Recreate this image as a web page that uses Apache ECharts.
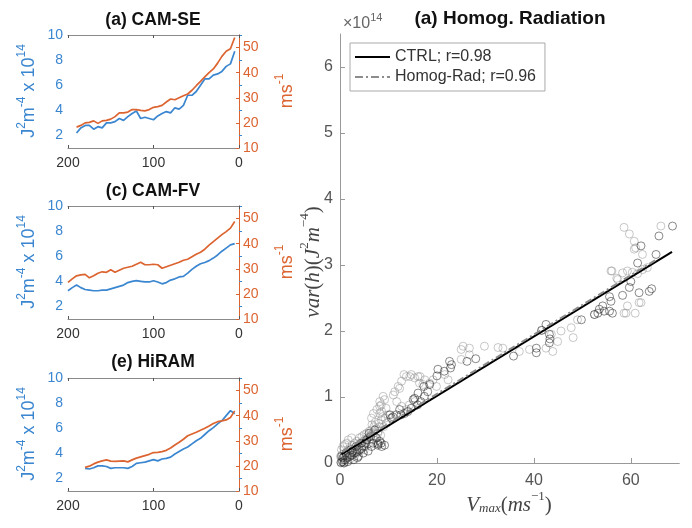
<!DOCTYPE html>
<html><head><meta charset="utf-8">
<script src="https://cdn.jsdelivr.net/npm/echarts/dist/echarts.min.js"></script>
<style>html,body{margin:0;padding:0;background:#fff}#c{width:692px;height:528px}</style>
</head><body><div id="c"></div>
<script>
// ---------- left panels data ----------
const xA = [190,185,180,175,170,165,160,155,150,145,140,135,130,125,120,115,110,105,100,95,90,85,80,75,70,65,60,55,50,45,40,35,30,25,20,15,10,5];
const varA = [2.2,2.6,2.8,2.8,2.5,2.7,2.6,3.0,3.0,3.1,3.35,3.2,3.5,3.75,3.95,3.35,3.45,3.35,3.25,3.55,3.75,3.9,3.8,4.2,4.1,4.4,5.2,5.2,5.5,6.0,6.5,6.5,6.8,6.9,7.1,7.5,7.7,8.7];
const vmaxA = [18.3,19.0,20.0,20.2,20.8,19.8,20.8,21.0,21.5,22.5,24.0,24.0,24.3,25.3,25.3,25.0,24.8,25.3,26.2,26.5,27.0,28.3,29.5,29.2,30.0,30.8,31.5,33.0,34.8,36.5,38.3,40.0,41.5,43.8,46.5,48.5,49.5,54.0];

const xC = [200,195,190,185,180,175,170,165,160,155,150,145,140,135,130,125,120,115,110,105,100,95,90,85,80,75,70,65,60,55,50,45,40,35,30,25,20,15,10,5];
const varC = [3.25,3.5,3.7,3.5,3.35,3.3,3.25,3.25,3.3,3.3,3.4,3.5,3.6,3.7,3.9,4.0,4.05,4.0,3.95,3.95,4.05,3.95,3.8,3.9,4.1,4.2,4.35,4.4,4.65,4.95,5.2,5.4,5.5,5.65,5.85,6.1,6.4,6.65,6.9,7.0];
const vmaxC = [24.6,26.0,27.2,27.6,27.8,26.4,27.2,28.2,28.8,28.6,29.6,28.6,29.4,30.2,30.6,31.0,31.8,32.6,31.6,31.6,31.8,31.6,30.2,30.8,31.4,32.0,32.6,33.4,33.8,34.8,35.8,36.6,37.8,39.4,40.8,42.2,43.6,44.8,46.2,48.8];

const xE = [180,175,170,165,160,155,150,145,140,135,130,125,120,115,110,105,100,95,90,85,80,75,70,65,60,55,50,45,40,35,30,25,20,15,10,5];
const varE = [2.8,2.75,2.85,3.0,3.0,2.95,2.8,2.85,2.85,2.85,2.8,2.95,3.2,3.25,3.3,3.4,3.5,3.4,3.55,3.6,3.7,3.95,4.15,4.35,4.5,4.75,5.0,5.2,5.5,5.8,6.05,6.35,6.6,7.0,7.4,7.15];
const vmaxE = [19.4,19.9,20.8,21.5,22.0,22.4,21.9,21.8,21.9,22.0,21.6,22.4,23.1,23.6,24.1,24.6,25.3,25.4,25.7,26.2,27.1,28.3,29.4,30.6,32.0,32.7,33.4,34.2,35.0,35.9,36.9,37.6,37.9,38.3,39.3,41.9];

const leftTitles = ['(a) CAM-SE','(c) CAM-FV','(e) HiRAM'];
const leftYTicks = [2,4,6,8,10];
const rightYTicks = [10,20,30,40,50];

// ---------- right panel data ----------
const ctrlPts = [
[68.6,3.59],[65.8,3.44],[62.1,3.29],[65.2,3.16],[61.4,3.03],[60.0,2.75],[59.7,2.66],[61.7,2.58],[63.8,2.60],[64.3,2.64],
[58.3,2.54],[55.6,2.52],[55.9,2.45],[54.2,2.38],[53.5,2.33],[53.2,2.27],[52.5,2.25],[54.5,2.30],[55.6,2.30],[56.2,2.27],
[49.8,2.17],[42.5,2.10],[43.2,1.95],[41.6,2.01],[43.3,1.88],[43.2,1.82],[40.5,1.74],[40.5,1.67],[35.8,1.62],[28.0,1.58],
[26.2,1.54],[22.6,1.54],[23.0,1.49],[22.8,1.44],[20.2,1.42],[20.0,1.32],[21.5,1.39],[18.5,1.19],[17.3,1.16],[18.1,1.08],
[16.1,1.06],[17.4,1.01],[15.4,0.98],[16.7,0.93],[15.1,0.96],[16.0,0.88],[14.7,0.83],[12.3,0.81],[13.3,0.75],[12.6,0.73],
[14.0,0.78],[10.3,0.73],[10.6,0.68],[10.9,0.70],[11.6,0.73],[8.2,0.33],[8.5,0.30],[7.8,0.27],[9.2,0.27],[8.6,0.25],[7.9,0.29],
[0.5,0.02],[1.0,0.05],[1.5,0.08],[2.0,0.10],[2.5,0.12],[3.0,0.15],[3.5,0.17],[4.0,0.20],[4.5,0.22],[5.0,0.25],
[1.2,0.15],[2.2,0.20],[3.3,0.25],[4.4,0.30],[5.5,0.35],[6.3,0.40],[0.3,0.10],[6.8,0.30],[5.8,0.18],[3.8,0.10],[2.8,0.05],
[6.0,0.45],[7.2,0.50],[0.2,0.01],[0.8,0.0],[0.6,0.08],[1.6,0.02],[2.6,0.18],[3.6,0.08],[4.8,0.15],[5.2,0.30],[6.5,0.25],[7.5,0.38]
];
const homogPts = [
[58.6,3.57],[59.7,3.47],[66.2,3.59],[60.7,3.36],[61.0,3.26],[62.4,3.16],[60.7,3.24],[56.1,2.91],[55.9,2.91],[58.3,2.88],
[59.3,2.91],[60.3,2.89],[61.4,2.87],[62.4,2.93],[63.4,2.96],[57.3,2.78],[57.1,2.80],[62.1,2.43],[59.3,2.38],[58.6,2.27],
[60.9,2.27],[59.0,2.27],[61.7,2.43],[52.5,2.25],[49.0,2.17],[47.7,2.05],[48.1,1.90],[45.6,2.00],[43.6,1.95],[41.6,2.01],
[44.9,1.84],[42.5,1.74],[43.9,1.69],[39.1,1.72],[37.0,1.69],[33.6,1.74],[32.6,1.75],[29.8,1.77],[26.7,1.74],[25.0,1.72],
[25.4,1.77],[26.7,1.64],[25.0,1.57],[21.6,1.34],[22.3,1.26],[19.2,1.26],[18.5,1.21],[16.5,1.31],[16.1,1.31],[14.4,1.31],
[13.2,1.34],[13.7,1.31],[14.7,1.34],[15.4,1.29],[12.7,1.24],[12.0,1.16],[11.3,1.08],[12.3,1.13],[11.0,1.03],[11.7,0.93],
[12.7,0.86],[13.7,0.81],[14.3,0.88],[15.4,0.93],[17.5,1.26],[19.9,1.16],[16.4,1.21],[17.1,1.19],[8.9,1.01],[9.2,0.96],
[8.2,0.93],[8.5,0.88],[9.5,0.83],[8.2,0.86],[8.6,0.78],[7.6,0.81],[6.9,0.75],[6.5,0.68],[8.2,0.75],[9.9,0.73],
[9.3,0.68],[9.6,0.60],[8.2,0.55],[7.9,0.48],
[0.2,0.0],[0.5,0.05],[0.8,0.10],[1.0,0.02],[1.2,0.12],[1.5,0.18],[1.8,0.10],[2.0,0.22],[2.3,0.15],[2.5,0.27],
[2.8,0.20],[3.0,0.30],[3.2,0.22],[3.5,0.33],[3.8,0.27],[4.0,0.38],[4.2,0.30],[4.5,0.40],[4.8,0.33],[5.0,0.43],
[5.3,0.36],[5.5,0.45],[5.8,0.38],[6.0,0.48],[6.2,0.42],[6.5,0.50],[6.8,0.45],[7.0,0.55],[7.2,0.40],[7.5,0.52],
[7.8,0.45],[8.0,0.60],[0.3,0.20],[0.6,0.25],[1.0,0.28],[1.4,0.30],[0.1,0.10],[2.0,0.05],[3.0,0.10],[1.7,0.35],
[2.4,0.38],[4.0,0.18],[5.0,0.20],[6.0,0.30],[7.0,0.35],[0.9,0.0],[8.5,0.65],[8.8,0.70],[7.3,0.62],[6.6,0.58],
[0.4,0.13],[1.3,0.06],[2.2,0.12],[3.4,0.15],[4.6,0.25],[5.6,0.28],[6.4,0.36],[7.6,0.30],[8.4,0.42],[9.0,0.55]
];
const ctrlFit = [[0.3,0.13],[68.5,3.2]];
const homogFit = [[0.5,0.17],[65.0,3.07]];
const legendNames = ['CTRL; r=0.98','Homog-Rad; r=0.96'];
const rightXTicks = [0,20,40,60];
const rightYTicksR = [0,1,2,3,4,5,6];

// ---------- build ----------
const BLUE = '#3a86d0', ORANGE = '#dc6430';
const FONT = 'Liberation Sans, Arial, Helvetica, sans-serif';
const gridTops = [35,206,378];
const grids = [], xAxes = [], yAxes = [], series = [], graphics = [];
const leftSets = [[xA,varA,vmaxA],[xC,varC,vmaxC],[xE,varE,vmaxE]];

gridTops.forEach((t)=>{ grids.push({left:68, top:t, width:171, height:113}); });
grids.push({left:340, top:34, width:339.3, height:429});

for(let i=0;i<3;i++){
  xAxes.push({gridIndex:i,type:'value',min:0,max:200,inverse:true,interval:100,position:'bottom',
    axisLine:{lineStyle:{color:'#8a8a8a'}},
    axisTick:{inside:true,length:3,lineStyle:{color:'#555'}},
    axisLabel:{color:'#333',fontSize:14,fontFamily:FONT,margin:8},
    splitLine:{show:false}});
}
for(let i=0;i<3;i++){
  xAxes.push({gridIndex:i,type:'value',min:0,max:200,inverse:true,interval:100,position:'top',
    axisLine:{lineStyle:{color:'#8a8a8a'}},
    axisTick:{inside:true,length:3,lineStyle:{color:'#555'}},
    axisLabel:{show:false},splitLine:{show:false}});
}
xAxes.push({gridIndex:3,type:'value',min:0,max:70,
  axisLine:{lineStyle:{color:'#999'}},
  axisTick:{inside:true,length:5,lineStyle:{color:'#999'},customValues:rightXTicks},
  axisLabel:{color:'#555',fontSize:16,fontFamily:FONT,margin:10,customValues:rightXTicks},
  splitLine:{show:false}});

for(let i=0;i<3;i++){
  yAxes.push({gridIndex:i,type:'value',min:1,max:10,position:'left',
    axisLine:{show:true,lineStyle:{color:BLUE}},
    axisTick:{show:true,inside:true,length:3,lineStyle:{color:BLUE},customValues:leftYTicks},
    axisLabel:{color:BLUE,fontSize:14,fontFamily:FONT,margin:5,customValues:leftYTicks},
    splitLine:{show:false}});
}
for(let i=0;i<3;i++){
  yAxes.push({gridIndex:i,type:'value',min:10,max:55,position:'right',
    axisLine:{show:true,lineStyle:{color:ORANGE}},
    axisTick:{show:true,inside:true,length:3,lineStyle:{color:ORANGE},customValues:rightYTicks},
    axisLabel:{color:ORANGE,fontSize:14,fontFamily:FONT,margin:4,customValues:rightYTicks},
    splitLine:{show:false}});
}
yAxes.push({gridIndex:3,type:'value',min:0,max:6.5,
  axisLine:{show:true,lineStyle:{color:'#999'}},
  axisTick:{show:true,inside:true,length:5,lineStyle:{color:'#999'},customValues:rightYTicksR},
  axisLabel:{color:'#555',fontSize:16,fontFamily:FONT,margin:7,customValues:rightYTicksR},
  splitLine:{show:false}});

leftSets.forEach((s,i)=>{
  series.push({type:'line',xAxisIndex:i,yAxisIndex:i,showSymbol:false,symbol:'none',
    data:s[0].map((x,k)=>[x,s[1][k]]),lineStyle:{color:BLUE,width:1.7},silent:true});
  series.push({type:'line',xAxisIndex:i,yAxisIndex:i+3,showSymbol:false,symbol:'none',
    data:s[0].map((x,k)=>[x,s[2][k]]),lineStyle:{color:ORANGE,width:1.7},silent:true});
});

series.push({type:'scatter',name:'homogPts',xAxisIndex:6,yAxisIndex:6,data:homogPts,symbol:'circle',symbolSize:8,
  itemStyle:{color:'rgba(0,0,0,0)',borderColor:'rgba(140,140,140,0.6)',borderWidth:1}});
series.push({type:'scatter',name:'ctrlPts',xAxisIndex:6,yAxisIndex:6,data:ctrlPts,symbol:'circle',symbolSize:8,
  itemStyle:{color:'rgba(0,0,0,0)',borderColor:'rgba(30,30,30,0.65)',borderWidth:1}});
series.push({type:'line',name:legendNames[0],xAxisIndex:6,yAxisIndex:6,data:ctrlFit,symbol:'none',
  itemStyle:{color:'#000'},lineStyle:{color:'#000',width:2},z:5});
series.push({type:'line',name:legendNames[1],xAxisIndex:6,yAxisIndex:6,data:homogFit,symbol:'none',
  itemStyle:{color:'#8c8c8c'},lineStyle:{color:'#8c8c8c',width:2,type:[7,3,2,3]},z:6});

// titles
const tY = [20,191.5,362];
leftTitles.forEach((t,i)=>{
  graphics.push({type:'text',x:153,y:tY[i],style:{text:t,font:'bold 17.5px '+FONT,fill:'#111',align:'center',verticalAlign:'middle'}});
});
graphics.push({type:'text',x:510,y:19,style:{text:'(a) Homog. Radiation',font:'bold 19px '+FONT,fill:'#111',align:'center',verticalAlign:'middle'}});

// left y labels
const richBlue = {
  n:{fontSize:18,fontFamily:FONT,fill:BLUE,lineHeight:22,verticalAlign:'bottom'},
  s:{fontSize:12,fontFamily:FONT,fill:BLUE,verticalAlign:'top'}
};
const richOr = {
  n:{fontSize:18,fontFamily:FONT,fill:ORANGE,lineHeight:22,verticalAlign:'bottom'},
  s:{fontSize:12,fontFamily:FONT,fill:ORANGE,verticalAlign:'top'}
};
gridTops.forEach((t)=>{
  graphics.push({type:'text',x:27,y:t+56,rotation:Math.PI/2,
    style:{text:'{n|J}{s|2}{n|m}{s|-4}{n| x 10}{s|14}',rich:richBlue,align:'center',verticalAlign:'middle'}});
  graphics.push({type:'text',x:285,y:t+56,rotation:Math.PI/2,
    style:{text:'{n|ms}{s|-1}',rich:richOr,align:'center',verticalAlign:'middle'}});
});

// right panel labels
const SERIF = 'Liberation Serif, DejaVu Serif, serif';
const richSer = {
  n:{fontSize:21,fontFamily:SERIF,fontStyle:'italic',fill:'#444',lineHeight:25,verticalAlign:'bottom'},
  r:{fontSize:21,fontFamily:SERIF,fill:'#444',lineHeight:25,verticalAlign:'bottom'},
  s:{fontSize:13,fontFamily:SERIF,fontStyle:'italic',fill:'#444',verticalAlign:'top'},
  sr:{fontSize:13,fontFamily:SERIF,fill:'#444',verticalAlign:'top'},
  b:{fontSize:13,fontFamily:SERIF,fontStyle:'italic',fill:'#444',verticalAlign:'bottom'}
};
graphics.push({type:'text',x:311,y:262,rotation:Math.PI/2,
  style:{text:'{n|var}{r|(}{n|h}{r|)(}{n|J}{sr|2}{n|m}{sr|−4}{r|)}',rich:richSer,align:'center',verticalAlign:'middle'}});
graphics.push({type:'text',x:509,y:503,
  style:{text:'{n|V}{b|max}{r|(}{n|ms}{sr|−1}{r|)}',rich:richSer,align:'center',verticalAlign:'middle'}});
graphics.push({type:'text',x:343,y:22,
  style:{text:'{n|×10}{s|14}',rich:{n:{fontSize:16,fontFamily:FONT,fill:'#666',lineHeight:20,verticalAlign:'bottom'},s:{fontSize:11,fontFamily:FONT,fill:'#666',verticalAlign:'top'}},align:'left',verticalAlign:'middle'}});

const chart = echarts.init(document.getElementById('c'),null,{renderer:'canvas'});
chart.setOption({
  animation:false,
  backgroundColor:'#fff',
  grid:grids, xAxis:xAxes, yAxis:yAxes, series:series, graphic:graphics,
  legend:{
    data:[
      {name:legendNames[0],icon:'path://M0,0h35v2h-35z'},
      {name:legendNames[1],icon:'path://M0,0h8v2h-8zM11,0h2v2h-2zM16,0h8v2h-8zM27,0h2v2h-2zM32,0h3v2h-3z'}
    ],
    orient:'vertical',left:350,top:43,padding:[5,9,5,5],itemGap:2,itemWidth:35,itemHeight:2,itemTextGap:4,
    borderColor:'#aaa',borderWidth:1,backgroundColor:'#fff',
    textStyle:{fontSize:16,fontFamily:FONT,color:'#333',lineHeight:18}}
});
</script></body></html>
